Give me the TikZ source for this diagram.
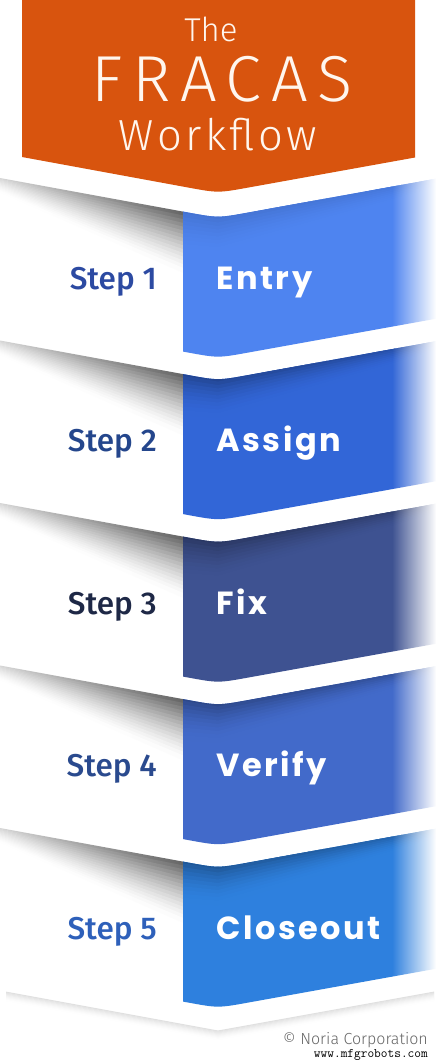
\documentclass[tikz,border=0pt]{standalone}
\usepackage{fontspec}
\usetikzlibrary{fadings}
\newfontfamily\thefont{Fira Sans Light}
\newfontfamily\fracasfont{Fira Sans Light}[LetterSpace=15]
\newfontfamily\wflowfont{Fira Sans Light}[LetterSpace=8]
\newfontfamily\stepfont{Fira Sans Medium}
\newfontfamily\wordfont{Poppins}[LetterSpace=8]
\newfontfamily\copyfont{Fira Sans Light}
\definecolor{orangeH}{RGB}{216,84,14}
\definecolor{titletxt}{RGB}{255,246,238}
\definecolor{bA}{RGB}{78,132,240}
\definecolor{bB}{RGB}{50,102,215}
\definecolor{bC}{RGB}{62,82,145}
\definecolor{bD}{RGB}{66,106,202}
\definecolor{bE}{RGB}{46,128,222}
\definecolor{sA}{RGB}{44,74,162}
\definecolor{sB}{RGB}{36,70,140}
\definecolor{sC}{RGB}{30,40,70}
\definecolor{sD}{RGB}{42,74,142}
\definecolor{sE}{RGB}{46,96,186}
\tikzfading[name=fadeR, left color=transparent!100, right color=transparent!0]
\begin{document}
\begin{tikzpicture}[x=1pt,y=-1pt,
  steplabel/.style={anchor=base east, inner sep=0pt, font=\stepfont\fontsize{31.5}{31.5}\selectfont},
  wordlabel/.style={anchor=base west, inner sep=0pt, text=white, font=\wordfont\bfseries\fontsize{32}{32}\selectfont},
  titlelabel/.style={anchor=base, inner sep=0pt, text=titletxt}]
\useasboundingbox (0,0) rectangle (440,1062);
\fill[white] (0,0) rectangle (440,1062);
% header
\fill[orangeH] (22,0) -- (415,0) -- (415,157.5) -- (248,187.6) .. controls (218,193) .. (188,187.5) -- (22,157) -- cycle;
\node[titlelabel, font=\thefont\fontsize{33}{33}\selectfont] (the) at (211,41.7) {The};
\node[titlelabel, font=\fracasfont\fontsize{65}{65}\selectfont] (fracas) at (222,101.7) {FRACAS};
\node[titlelabel, font=\wflowfont\fontsize{43.5}{43.5}\selectfont] (wflow) at (218,150) {Workflow};
% steps
\foreach \i/\bcol/\lcol/\D/\w in {1/bA/sA/15/Entry, 2/bB/sB/38/Assign, 3/bC/sC/38/Fix, 4/bD/sD/38/Verify, 5/bE/sE/38/Closeout}{
  \pgfmathsetmacro{\T}{178+162.5*(\i-1)}
  % grey shadow wedge
  \foreach \kk in {0,...,15}{
    \pgfmathsetmacro{\fa}{\kk/16}
    \pgfmathsetmacro{\fb}{(\kk+1)/16+0.02}
    \pgfmathsetmacro{\g}{(1-\fa)^1.4}
    \pgfmathsetmacro{\cL}{16*\g}
    \pgfmathsetmacro{\cR}{60*\g}
    \shade[left color=black!\cL, right color=black!\cR] (0,\T+14*\fa) -- (183,\T+33.58+60*\fa) -- (183,\T+33.58+60*\fb) -- (0,\T+14*\fb) -- cycle;
  }
  % blue panel
  \begin{scope}
    \clip (183,\T+33.58) -- (188,\T+34.5) .. controls (218,\T+40) .. (248,\T+34.59) -- (440,\T) -- (440,\T+140) -- (248,\T+174.59) .. controls (218,\T+180) .. (188,\T+174.5) -- (183,\T+173.58) -- cycle;
    \fill[\bcol] (180,\T-5) rectangle (441,\T+185);
    \foreach \kk in {0,...,11}{
      \pgfmathsetmacro{\fa}{\kk/12}
      \pgfmathsetmacro{\fb}{(\kk+1)/12+0.03}
      \pgfmathsetmacro{\dd}{100-\D*(1-\fa)^2}
      \fill[\bcol!\dd!black] (183,\T+27.58+46*\fa) -- (218,\T+34+42*\fa) -- (441,\T-6+16*\fa) -- (441,\T-6+16*\fb) -- (218,\T+34+42*\fb) -- (183,\T+27.58+46*\fb) -- cycle;
    }
  \end{scope}
  \fill[white, path fading=fadeR] (392,\T-3) rectangle (436,\T+150);
  \fill[white] (435.5,\T-3) rectangle (441,\T+150);
  \node[steplabel, text=\lcol] (s\i) at (157,\T+111) {Step \i};
  \node[wordlabel] (w\i) at (216,\T+111) {\w};
}
% bottom shadow
\foreach \kk in {0,...,9}{
  \pgfmathsetmacro{\fa}{\kk/10}
  \pgfmathsetmacro{\fb}{(\kk+1)/10+0.03}
  \pgfmathsetmacro{\g}{(1-\fa)^1.5}
  \pgfmathsetmacro{\cL}{12*\g}
  \pgfmathsetmacro{\cM}{50*\g}
  \shade[left color=black!\cL, middle color=black!\cM, right color=black!\cL] (6,991.6+9*\fa) -- (218,1030.5+9*\fa) -- (434,991.6+9*\fa) -- (434,991.6+9*\fb) -- (218,1030.5+9*\fb) -- (6,991.6+9*\fb) -- cycle;
}
\node[anchor=base east, inner sep=0pt, text=black!60, font=\copyfont\fontsize{16}{16}\selectfont] (copy) at (428,1044) {© Noria Corporation};
\node[anchor=base east, inner sep=0pt, font=\ttfamily\fontsize{13}{13}\selectfont] (url) at (428,1057) {www.mfgrobots.com};
\end{tikzpicture}
\end{document}
